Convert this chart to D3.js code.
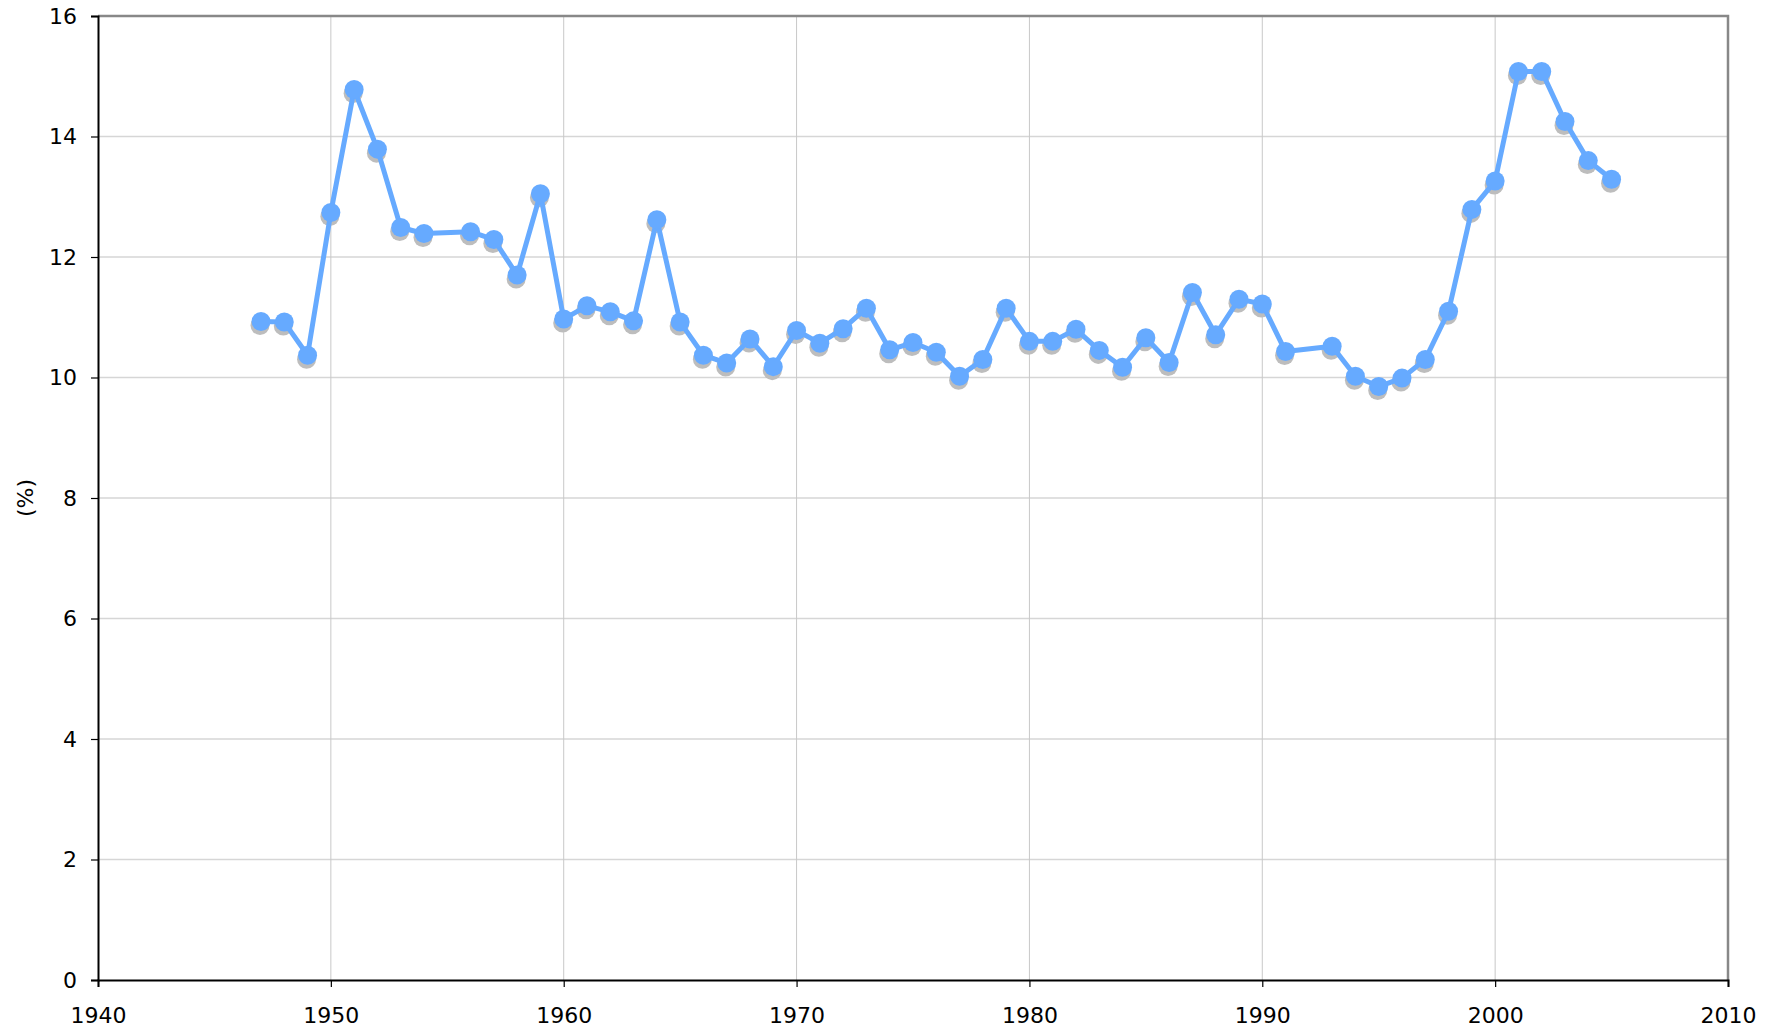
<!DOCTYPE html>
<html>
<head>
<meta charset="utf-8">
<script src="https://cdn.jsdelivr.net/npm/d3@7"></script>
<style>
    body { margin: 0; background: #ffffff; }
    svg { display: block; font-family: 'DejaVu Sans', Verdana, sans-serif; }
</style>
</head>
<body>
<svg id="drawing_region"></svg>
<script>
// years with a value (1955 and 1992 are missing in the source)
const years = [
    1947, 1948, 1949, 1950, 1951, 1952, 1953, 1954, 1956, 1957, 1958, 1959,
    1960, 1961, 1962, 1963, 1964, 1965, 1966, 1967, 1968, 1969,
    1970, 1971, 1972, 1973, 1974, 1975, 1976, 1977, 1978, 1979,
    1980, 1981, 1982, 1983, 1984, 1985, 1986, 1987, 1988, 1989,
    1990, 1991, 1993, 1994, 1995, 1996, 1997, 1998, 1999,
    2000, 2001, 2002, 2003, 2004, 2005
];
const percent = [
    10.93, 10.92, 10.37, 12.74, 14.78, 13.79, 12.49, 12.39, 12.42, 12.29, 11.70, 13.05,
    10.97, 11.19, 11.09, 10.94, 12.62, 10.92, 10.37, 10.24, 10.64, 10.18,
    10.78, 10.57, 10.81, 11.15, 10.46, 10.58, 10.42, 10.02, 10.30, 11.15,
    10.60, 10.60, 10.80, 10.45, 10.17, 10.66, 10.25, 11.41, 10.71, 11.30,
    11.22, 10.43, 10.52, 10.02, 9.85, 9.99, 10.30, 11.10, 12.79,
    13.26, 15.08, 15.08, 14.25, 13.60, 13.29
];
const xticks = [1940, 1950, 1960, 1970, 1980, 1990, 2000, 2010];
const yticks = [0, 2, 4, 6, 8, 10, 12, 14, 16];

class LineChart {

    constructor(config, data) {
        this.config = {
            parent: config.parent,
            width: config.width || 256,
            height: config.height || 256,
            margin: config.margin || { top: 10, right: 10, bottom: 10, left: 10 },
            ylabel: config.ylabel || ''
        }
        this.data = data;
        this.init();
    }

    init() {
        let self = this;

        self.svg = d3.select(self.config.parent)
            .attr('width', self.config.width)
            .attr('height', self.config.height);

        self.chart = self.svg.append('g')
            .attr('transform', `translate(${self.config.margin.left}, ${self.config.margin.top})`);

        self.inner_width = self.config.width - self.config.margin.left - self.config.margin.right;
        self.inner_height = self.config.height - self.config.margin.top - self.config.margin.bottom;

        self.xscale = d3.scaleLinear()
            .domain([1940, 2010])
            .range([0, self.inner_width]);

        self.yscale = d3.scaleLinear()
            .domain([0, 16])
            .range([self.inner_height, 0]);

        self.xaxis = d3.axisBottom(self.xscale)
            .tickValues(xticks)
            .tickFormat(d3.format('d'))
            .tickSize(7)
            .tickPadding(20);

        self.yaxis = d3.axisLeft(self.yscale)
            .tickValues(yticks)
            .tickSize(7)
            .tickPadding(14);

        self.svg.append('text')
            .style('font-size', '22px')
            .attr('transform', `rotate(-90)`)
            .attr('x', -(self.config.margin.top + self.inner_height / 2))
            .attr('y', 25)
            .attr('dy', '0.35em')
            .attr('text-anchor', 'middle')
            .text(self.config.ylabel);
    }

    render() {
        let self = this;

        // grid
        self.chart.append('g')
            .selectAll('line')
            .data(yticks.filter(d => d > 0 && d < 16))
            .join('line')
            .attr('x1', 0)
            .attr('x2', self.inner_width)
            .attr('y1', d => self.yscale(d))
            .attr('y2', d => self.yscale(d))
            .attr('stroke', '#d6d6d6')
            .attr('stroke-width', 1.5);

        self.chart.append('g')
            .selectAll('line')
            .data(xticks.filter(d => d > 1940 && d < 2010))
            .join('line')
            .attr('x1', d => self.xscale(d))
            .attr('x2', d => self.xscale(d))
            .attr('y1', 0)
            .attr('y2', self.inner_height)
            .attr('stroke', '#c8c8c8')
            .attr('stroke-width', 1);

        // frame top and right
        self.chart.append('path')
            .attr('d', `M0,0H${self.inner_width}V${self.inner_height}`)
            .attr('fill', 'none')
            .attr('stroke', '#888888')
            .attr('stroke-width', 2.5);

        self.xaxis_group = self.chart.append('g')
            .attr('transform', `translate(0, ${self.inner_height})`)
            .call(self.xaxis);

        self.yaxis_group = self.chart.append('g')
            .call(self.yaxis);

        [self.xaxis_group, self.yaxis_group].forEach(g => {
            g.select('.domain').attr('stroke', '#000').attr('stroke-width', 2);
            g.selectAll('.tick line').attr('stroke', '#000').attr('stroke-width', 1.2);
            g.selectAll('.tick text')
                .attr('fill', '#000')
                .style('font-size', '22px')
                .style('font-family', "'DejaVu Sans', Verdana, sans-serif");
        });

        const xvalue = d => self.xscale(d.year);
        const yvalue = d => self.yscale(d.value);

        // dot shadows
        self.chart.append('g')
            .attr('transform', 'translate(-1, 4)')
            .selectAll('circle')
            .data(self.data)
            .join('circle')
            .attr('cx', xvalue)
            .attr('cy', yvalue)
            .attr('r', 9.5)
            .attr('fill', '#bdbdbd');

        self.line = d3.line()
            .x(xvalue)
            .y(yvalue);

        self.chart.append('path')
            .attr('d', self.line(self.data))
            .attr('fill', 'none')
            .attr('stroke', '#66aaff')
            .attr('stroke-width', 5)
            .attr('stroke-linejoin', 'round');

        self.chart.append('g')
            .selectAll('circle')
            .data(self.data)
            .join('circle')
            .attr('cx', xvalue)
            .attr('cy', yvalue)
            .attr('r', 9.5)
            .attr('fill', '#66aaff');
    }
}

const data = years.map((y, i) => ({ year: y, value: percent[i] }));

const chart = new LineChart({
    parent: '#drawing_region',
    width: 1778,
    height: 1031,
    margin: { top: 16, right: 50, bottom: 51, left: 98 },
    ylabel: '(%)'
}, data);
chart.render();
</script>
</body>
</html>
